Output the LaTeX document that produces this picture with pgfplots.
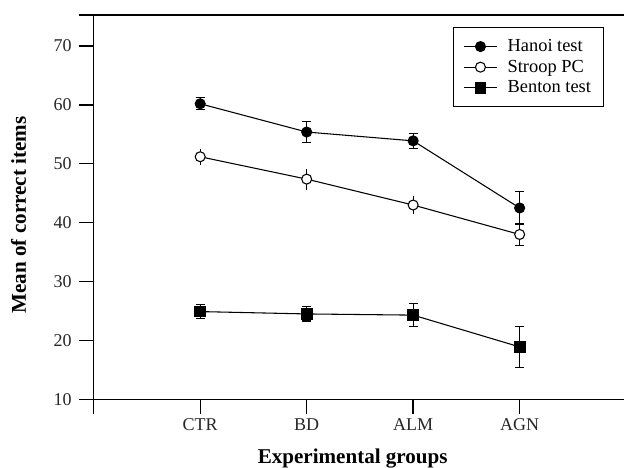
\documentclass[border=0pt]{standalone}
\usepackage{fontspec}
\setmainfont{Liberation Serif}
\usepackage{pgfplots}
\pgfplotsset{compat=1.18}
\pgfplotsset{mylegend/.style={legend image code/.code={\draw[mark repeat=2,mark phase=2,##1] plot coordinates {(0pt,0pt) (12.5pt,0pt) (25pt,0pt)};}}}
\begin{document}
\begin{tikzpicture}
\useasboundingbox (-70.28pt,-50.78pt) rectangle (397.72pt,299.48pt);
\begin{axis}[
  at={(0pt,0pt)}, anchor=south west,
  scale only axis, width=397.72pt, height=288.2pt,
  xmin=0, xmax=4.98, ymin=10, ymax=75.27,
  clip=false,
  axis x line=box, axis y line=left,
  axis line style={-, line width=1pt, black},
  xtick={0,1,2,3,4}, xticklabels={,CTR,BD,ALM,AGN},
  xtick pos=left,
  ytick={10,20,30,40,50,60,70},
  extra y ticks={75.27}, extra y tick labels={},
  extra y tick style={grid=none, tick align=outside},
  tick align=outside, major tick length=11pt,
  tick style={line width=1pt, black},
  minor tick num=0,
  /pgf/number format/assume math mode=true,
  ticklabel style={font=\fontsize{13.5}{16}\selectfont, text=black!85},
  yticklabel style={xshift=-2pt},
  xlabel={Experimental groups},
  ylabel={Mean of correct items},
  xlabel style={at={(axis description cs:0.4884,-0.168)}, anchor=base, font=\bfseries\fontsize{15.8}{18}\selectfont},
  ylabel style={at={(axis description cs:-0.1277,0.4796)}, anchor=base, font=\bfseries\fontsize{15.8}{18}\selectfont},
  legend style={at={(axis description cs:0.677,0.969)}, anchor=north west,
    draw=black, line width=0.8pt, font=\fontsize{13.8}{15}\selectfont,
    row sep=0.8pt, inner xsep=7.5pt, inner ysep=7pt,
    /tikz/every odd column/.append style={column sep=5.5pt},
    /tikz/every even column/.append style={column sep=2pt}},
  legend cell align=left,
  every axis plot/.append style={line width=0.8pt, black},
  error bars/error bar style={line width=0.8pt, black},
]
% Hanoi test
\addplot[mylegend, mark=*, mark size=3.75pt, mark options={fill=black},
  error bars/.cd, y dir=both, y explicit,
  error mark options={rotate=90, mark size=3.4pt, line width=0.8pt}]
  coordinates {
  (1,60.2) +- (0,1.0)
  (2,55.4) +- (0,1.8)
  (3,53.9) +- (0,1.3)
  (4,42.5) +- (0,2.8)
};
\addlegendentry{Hanoi test}
% Stroop PC (error bar with caps at AGN)
\addplot[draw=none, mark=none, forget plot,
  error bars/.cd, y dir=both, y explicit,
  error mark options={rotate=90, mark size=3.4pt, line width=0.8pt}]
  coordinates {
  (4,38.0) +- (0,1.9)
};
\addplot[mylegend, mark=*, mark size=3.75pt, mark options={fill=white},
  error bars/.cd, y dir=both, y explicit, error mark=none]
  coordinates {
  (1,51.2) +- (0,1.4)
  (2,47.4) +- (0,1.8)
  (3,43.0) +- (0,1.5)
  (4,38.0) +- (0,1.9)
};
\addlegendentry{Stroop PC}
% Benton test
\addplot[mylegend, mark=square*, mark size=4pt, mark options={fill=black},
  error bars/.cd, y dir=both, y explicit,
  error mark options={rotate=90, mark size=3.4pt, line width=0.8pt}]
  coordinates {
  (1,24.9) +- (0,1.2)
  (2,24.5) +- (0,1.2)
  (3,24.3) +- (0,2.0)
  (4,18.9) +- (0,3.5)
};
\addlegendentry{Benton test}
\end{axis}
\end{tikzpicture}
\end{document}
